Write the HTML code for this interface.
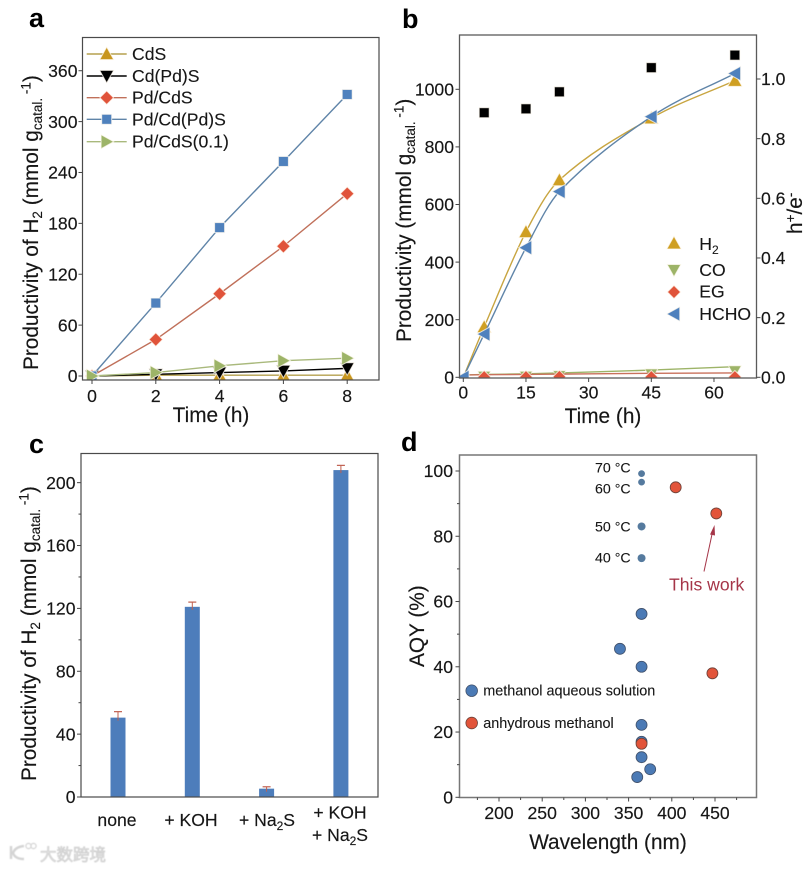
<!DOCTYPE html>
<html lang="en">
<head>
<meta charset="utf-8">
<title>Photocatalysis charts</title>
<style>
html,body{margin:0;padding:0;background:#fff;}
svg{display:block;}
text{font-family:"Liberation Sans","Noto Sans CJK SC",sans-serif;fill:#161616;}
.tick{font-size:17.6px;stroke:#161616;stroke-width:.15;}
.title{font-size:20.8px;stroke:#161616;stroke-width:.15;}
.leg{font-size:17.6px;stroke:#161616;stroke-width:.12;}
.temp{font-size:14.2px;stroke:#161616;stroke-width:.1;}
.dleg{font-size:14.4px;stroke:#161616;stroke-width:.1;}
.plabel{font-size:27px;font-weight:bold;fill:#000;}
.frame{fill:none;stroke:#4a4a4a;stroke-width:1.2;}
</style>
</head>
<body>
<svg id="figure" xmlns="http://www.w3.org/2000/svg" width="811" height="869" viewBox="0 0 811 869">
<defs>
<clipPath id="clip-a"><rect x="82.5" y="37.5" width="296.5" height="342.5"/></clipPath>
<clipPath id="clip-b"><rect x="459.5" y="35" width="297" height="343"/></clipPath>
<filter id="soft"><feGaussianBlur stdDeviation="0.45"/></filter>
</defs>

<g id="panel-a">
<text class="plabel" x="29" y="27">a</text>
<g id="a-marks" clip-path="url(#clip-a)"></g>
<rect class="frame" x="82.5" y="37.5" width="296.5" height="342.5"/>
<g id="a-axes"></g>
<text class="title" x="211" y="422" text-anchor="middle">Time (h)</text>
<text class="title" transform="rotate(-90 38 370)" x="38" y="370">Productivity of H<tspan font-size="13.5" dy="4">2</tspan><tspan dy="-4"> (mmol g</tspan><tspan font-size="13.5" dy="4">catal.</tspan><tspan font-size="13.5" dy="-11.5"> -1</tspan><tspan dy="7.5">)</tspan></text>
<g id="a-legend"></g>
</g>

<g id="panel-b">
<text class="plabel" x="402" y="28">b</text>
<g id="b-marks" clip-path="url(#clip-b)"></g>
<rect class="frame" x="459.5" y="35" width="297" height="343" style="stroke:#5a5a5a;stroke-width:1.3"/>
<g id="b-axes"></g>
<text class="title" x="603" y="423" text-anchor="middle">Time (h)</text>
<text class="title" transform="rotate(-90 411 342)" x="411" y="342">Productivity (mmol g<tspan font-size="13.5" dy="4">catal.</tspan><tspan font-size="13.5" dy="-11.5"> -1</tspan><tspan dy="7.5">)</tspan></text>
<text class="title" transform="rotate(-90 802 234)" x="802" y="234">h<tspan font-size="13.5" dy="-7">+</tspan><tspan dy="7">/e</tspan><tspan font-size="13.5" dy="-7">-</tspan></text>
<g id="b-legend"></g>
</g>

<g id="panel-c">
<text class="plabel" x="29" y="453">c</text>
<g id="c-marks"></g>
<rect class="frame" x="81" y="453.5" width="297" height="343.5"/>
<g id="c-axes"></g>
<text class="title" transform="rotate(-90 36 781)" x="36" y="781">Productivity of H<tspan font-size="13.5" dy="4">2</tspan><tspan dy="-4"> (mmol g</tspan><tspan font-size="13.5" dy="4">catal.</tspan><tspan font-size="13.5" dy="-11.5"> -1</tspan><tspan dy="7.5">)</tspan></text>
<text class="tick" x="117" y="826" text-anchor="middle">none</text>
<text class="tick" x="191" y="826" text-anchor="middle">+ KOH</text>
<text class="tick" x="267" y="826" text-anchor="middle">+ Na<tspan font-size="12" dy="4">2</tspan><tspan dy="-4">S</tspan></text>
<text class="tick" x="340" y="818.5" text-anchor="middle">+ KOH</text>
<text class="tick" x="340" y="841" text-anchor="middle">+ Na<tspan font-size="12" dy="4">2</tspan><tspan dy="-4">S</tspan></text>
</g>

<g id="panel-d">
<text class="plabel" x="401" y="451">d</text>
<rect class="frame" x="459.5" y="455" width="297" height="342.5" style="stroke:#777;stroke-width:1.5"/>
<g id="d-axes"></g>
<g id="d-marks"></g>
<text class="title" x="608" y="849" text-anchor="middle">Wavelength (nm)</text>
<text class="title" transform="rotate(-90 424 667)" x="424" y="667">AQY (%)</text>
<text class="temp" x="595" y="472.5">70 °C</text>
<text class="temp" x="595" y="493.5">60 °C</text>
<text class="temp" x="595" y="531.5">50 °C</text>
<text class="temp" x="595" y="562.5">40 °C</text>
<text x="669" y="590.5" font-size="17.6" style="fill:#a53548">This work</text>
<line x1="704" y1="571.5" x2="712.5" y2="532" stroke="#a53548" stroke-width="1"/>
<polygon points="714.5,525 710,534.5 715,535.5" fill="#a53548"/>
<circle cx="471.7" cy="690.7" r="5.8" fill="#4b7ab5" stroke="#40506a" stroke-width="0.8"/>
<text class="dleg" x="483.3" y="695.5">methanol aqueous solution</text>
<circle cx="471.7" cy="723" r="5.8" fill="#e2543a" stroke="#6a4038" stroke-width="0.8"/>
<text class="dleg" x="483.3" y="728">anhydrous methanol</text>
</g>

<g id="watermark" filter="url(#soft)">
<path d="M11 846 v13 M24 846 q-9 1 -11 7 q2 6 11 6" fill="none" stroke="#d4d4d4" stroke-width="2.4"/>
<circle cx="28.5" cy="846" r="2.6" fill="none" stroke="#d4d4d4" stroke-width="1.2"/>
<circle cx="33.5" cy="846" r="2.6" fill="none" stroke="#d4d4d4" stroke-width="1.2"/>
<text x="40" y="860.5" font-size="16.5" style="fill:#e4e4e4;stroke:#c9c9c9;stroke-width:.6">大数跨境</text>
</g>

<script>
// ---- Panel a data ----
const aTimes = [0, 2, 4, 6, 8];
const aCdS = [0, 1, 1, 1, 1];
const aCdPdS = [0, 2, 4, 6, 9];
const aPdCdS = [0, 43, 97, 153, 215];
const aPdCdPdS = [0, 86, 175, 253, 332];
const aPdCdS01 = [0, 4, 12, 18, 21];
const aXTicks = [0, 2, 4, 6, 8];
const aYTicks = [0, 60, 120, 180, 240, 300, 360];
const aNames = ['CdS', 'Cd(Pd)S', 'Pd/CdS', 'Pd/Cd(Pd)S', 'Pd/CdS(0.1)'];

// ---- Panel b data ----
const bTimes = [0, 5, 15, 23, 45, 65];
const bH2 = [0, 175, 505, 685, 900, 1030];
const bCO = [3, 3, 3, 5, 11, 22];
const bCOLine = [8, 10, 12, 15, 25, 37];
const bEG = [2, 1, 1, 2, 1, 1];
const bEGLine = [8, 9, 10, 11, 14, 15];
const bHCHO = [0, 150, 450, 645, 905, 1055];
const bRatio = [0.887, 0.9, 0.957, 1.038, 1.08];
const bRatioTimes = [5, 15, 23, 45, 65];
const bXTicks = [0, 15, 30, 45, 60];
const bYTicks = [0, 200, 400, 600, 800, 1000];
const bRTicks = [0, 0.2, 0.4, 0.6, 0.8, 1.0];
const bNames = ['H2', 'CO', 'EG', 'HCHO'];

// ---- Panel c data ----
const cValues = [50.5, 121, 5.3, 208];
const cErrors = [3.8, 3, 1.2, 3];
const cCategories = ['none', '+ KOH', '+ Na2S', '+ KOH + Na2S'];
const cPositions = [1, 2, 3, 4];
const cYTicks = [0, 40, 80, 120, 160, 200];
const cYMinor = [20, 60, 100, 140, 180];

// ---- Panel d data ----
const dTempW = [365, 365, 365, 365];
const dTempQ = [99.2, 96.6, 83, 73.3];
const dBlueW = [365, 340, 365, 365, 365, 365, 375, 360];
const dBlueQ = [56.2, 45.5, 40, 22.2, 17, 12.3, 8.6, 6.2];
const dRedW = [404.5, 451.5, 447, 365];
const dRedQ = [95, 87, 38, 16.4];
const dXTicks = [200, 250, 300, 350, 400, 450];
const dXMinor = [175, 225, 275, 325, 375, 425, 475];
const dYTicks = [0, 20, 40, 60, 80, 100];
const dYMinor = [10, 30, 50, 70, 90];

// ---- Scales ----
const ax = v => 92 + v * 31.9;
const ay = v => 376 - v * 0.848;
const bx = v => 463.3 + v * 4.178;
const by = v => 377.3 - v * 0.288;
const bry = v => 377.3 - v * 298.3;
const cx = p => 118 + (p - 1) * 74.3;
const cy = v => 797 - v * 1.5717;
const dx = v => 499 + (v - 200) * 0.864;
const dy = v => 797.3 - v * 3.263;

const NS = 'http://www.w3.org/2000/svg';
function mk(tag, attrs, parent) {
  const e = document.createElementNS(NS, tag);
  for (const k in attrs) e.setAttribute(k, attrs[k]);
  parent.appendChild(e);
  return e;
}
function marker(parent, shape, x, y, r, fill) {
  const halo = {fill: fill, stroke: '#fffaf0', 'stroke-width': 1, 'stroke-opacity': 0.75};
  let e;
  if (shape === 'square') {
    e = mk('rect', Object.assign({x: x - r, y: y - r, width: 2 * r, height: 2 * r}, halo), parent);
  } else {
    let p;
    if (shape === 'up') p = [[x, y - r], [x + r, y + r * 0.8], [x - r, y + r * 0.8]];
    if (shape === 'down') p = [[x, y + r], [x + r, y - r * 0.8], [x - r, y - r * 0.8]];
    if (shape === 'right') p = [[x + r, y], [x - r * 0.8, y - r], [x - r * 0.8, y + r]];
    if (shape === 'left') p = [[x - r, y], [x + r * 0.8, y - r], [x + r * 0.8, y + r]];
    if (shape === 'diamond') p = [[x, y - r], [x + r, y], [x, y + r], [x - r, y]];
    e = mk('polygon', Object.assign({points: p.map(q => q.join(',')).join(' ')}, halo), parent);
  }
  return e;
}
function xTicks(parent, values, scale, base, len, labelY, fmt) {
  values.forEach(v => {
    const t = mk('line', {x1: scale(v), x2: scale(v), y1: base, y2: base + len, stroke: '#444', 'stroke-width': 1}, parent);
    
    
    if (labelY) {
      const l = mk('text', {x: scale(v), y: labelY, 'text-anchor': 'middle', class: 'tick'}, parent);
      l.textContent = fmt ? fmt(v) : v;
      
      
    }
  });
}
function yTicks(parent, values, scale, base, len, labelX, anchor, fmt) {
  values.forEach(v => {
    const t = mk('line', {x1: base, x2: base + len, y1: scale(v), y2: scale(v), stroke: '#444', 'stroke-width': 1}, parent);
    
    
    if (labelX) {
      const l = mk('text', {x: labelX, y: scale(v) + 6.2, 'text-anchor': anchor, class: 'tick'}, parent);
      l.textContent = fmt ? fmt(v) : v;
      
      
    }
  });
}
function polyPath(xs, ys) {
  return xs.map((x, i) => (i ? 'L' : 'M') + x + ' ' + ys[i]).join(' ');
}
function splinePath(xs, ys) {
  let d = 'M' + xs[0] + ' ' + ys[0];
  for (let i = 0; i < xs.length - 1; i++) {
    const i0 = Math.max(i - 1, 0), i3 = Math.min(i + 2, xs.length - 1);
    const h = xs[i + 1] - xs[i];
    const m1 = (ys[i + 1] - ys[i0]) / (xs[i + 1] - xs[i0]);
    const m2 = (ys[i3] - ys[i]) / (xs[i3] - xs[i]);
    d += ' C' + (xs[i] + h / 3) + ' ' + (ys[i] + m1 * h / 3) + ' ' + (xs[i + 1] - h / 3) + ' ' + (ys[i + 1] - m2 * h / 3) + ' ' + xs[i + 1] + ' ' + ys[i + 1];
  }
  return d;
}

// ---- Panel a ----
const aMarks = document.getElementById('a-marks');
const aAxes = document.getElementById('a-axes');
const aLegend = document.getElementById('a-legend');
const aSeries = [
  {v: aCdS, line: '#b5a14f', fill: '#c8961e', shape: 'up', r: 7},
  {v: aCdPdS, line: '#000000', fill: '#000000', shape: 'down', r: 7},
  {v: aPdCdS, line: '#c0705a', fill: '#e0533a', shape: 'diamond', r: 6.8},
  {v: aPdCdPdS, line: '#5f84a8', fill: '#4f81bd', shape: 'square', r: 5},
  {v: aPdCdS01, line: '#a9b97c', fill: '#9db468', shape: 'right', r: 7}
];
aSeries.forEach((s, si) => {
  const xs = aTimes.map(ax), ys = s.v.map(ay);
  const line = mk('path', {d: polyPath(xs, ys), fill: 'none', stroke: s.line, 'stroke-width': 1.4}, aMarks);
  
  
  s.v.forEach((val, i) => {
    const m = marker(aMarks, s.shape, ax(aTimes[i]), ay(val), s.r, s.fill);
    
    
  });
  const rowY = [54, 76, 97.7, 119.3, 141.7][si];
  const ll = mk('line', {x1: 86.7, x2: 126.7, y1: rowY, y2: rowY, stroke: s.line, 'stroke-width': 1.4}, aLegend);
  
  
  const lm = marker(aLegend, s.shape, 106.7, rowY, s.r, s.fill);
  
  
  const lt = mk('text', {x: 132, y: rowY + 6, class: 'leg'}, aLegend);
  lt.textContent = aNames[si];
  
  
});
xTicks(aAxes, aXTicks, ax, 380, 4, 402);
yTicks(aAxes, aYTicks, ay, 82.5, -4, 77.5, 'end');

// ---- Panel b ----
const bMarks = document.getElementById('b-marks');
const bAxes = document.getElementById('b-axes');
const bLegend = document.getElementById('b-legend');
const bSeries = [
  {v: bCO, lineV: bCOLine, line: '#9db468', fill: '#9db468', shape: 'down', r: 6.5},
  {v: bEG, lineV: bEGLine, line: '#c9715c', fill: '#e0533a', shape: 'diamond', r: 6.5},
  {v: bH2, lineV: bH2, line: '#c8a540', fill: '#cf9f22', shape: 'up', r: 7.2},
  {v: bHCHO, lineV: bHCHO, line: '#5f84a8', fill: '#4f81bd', shape: 'left', r: 7.2}
];
bSeries.forEach(s => {
  const xs = bTimes.map(bx), ys = s.lineV.map(by);
  const line = mk('path', {d: splinePath(xs, ys), fill: 'none', stroke: s.line, 'stroke-width': 1.4}, bMarks);
  
  
  s.v.forEach((val, i) => {
    if (i === 0 && s.shape !== 'left') return;
    const m = marker(bMarks, s.shape, bx(bTimes[i]), by(val), s.r, s.fill);
    
    
  });
});
bRatio.forEach((val, i) => {
  const m = marker(bMarks, 'square', bx(bRatioTimes[i]), bry(val), 5, '#000000');
  
  
});
const bLegendRows = [
  {shape: 'up', fill: '#cf9f22', r: 7.2, y: 243.3, ty: 250},
  {shape: 'down', fill: '#9db468', r: 6.8, y: 270, ty: 276},
  {shape: 'diamond', fill: '#e0533a', r: 6.6, y: 292, ty: 297.5},
  {shape: 'left', fill: '#4f81bd', r: 7.2, y: 314, ty: 320}
];
bLegendRows.forEach((row, i) => {
  const lm = marker(bLegend, row.shape, 674, row.y, row.r, row.fill);
  
  
  const lt = mk('text', {x: 699.3, y: row.ty, class: 'leg'}, bLegend);
  if (bNames[i] === 'H2') {
    lt.textContent = 'H';
    const sub = mk('tspan', {'font-size': 12, dy: 4}, lt);
    sub.textContent = '2';
  } else {
    lt.textContent = bNames[i];
  }
  
  
});
xTicks(bAxes, bXTicks, bx, 378, 4, 398.5);
yTicks(bAxes, bYTicks, by, 459.5, -4, 454, 'end');
yTicks(bAxes, bRTicks, bry, 756.5, 4, 761, 'start', v => v.toFixed(1));

// ---- Panel c ----
const cMarks = document.getElementById('c-marks');
const cAxes = document.getElementById('c-axes');
cValues.forEach((v, i) => {
  const x = cx(cPositions[i]);
  const bar = mk('rect', {x: x - 7.5, y: cy(v), width: 15, height: cy(0) - cy(v), fill: '#4d7dbb'}, cMarks);
  
  
  const stem = mk('line', {x1: x, x2: x, y1: cy(v + cErrors[i]), y2: cy(v) + 3, stroke: '#c0604f', 'stroke-width': 1}, cMarks);
  
  
  const cap = mk('line', {x1: x - 4, x2: x + 4, y1: cy(v + cErrors[i]), y2: cy(v + cErrors[i]), stroke: '#c0604f', 'stroke-width': 1.2}, cMarks);
  
  
});
yTicks(cAxes, cYTicks, cy, 81, -4, 75.5, 'end');
yTicks(cAxes, cYMinor, cy, 81, -2.5);

// ---- Panel d ----
const dMarks = document.getElementById('d-marks');
const dAxes = document.getElementById('d-axes');
xTicks(dAxes, dXTicks, dx, 797.5, 4, 819);
xTicks(dAxes, dXMinor, dx, 797.5, 2.5);
yTicks(dAxes, dYTicks, dy, 459.5, -4, 453, 'end');
yTicks(dAxes, dYMinor, dy, 459.5, -2.5);
dTempW.forEach((w, i) => {
  const p = mk('circle', {cx: dx(w), cy: dy(dTempQ[i]), r: i < 2 ? 3.4 : 4, fill: '#557a9e'}, dMarks);
  
  
});
dBlueW.forEach((w, i) => {
  const p = mk('circle', {cx: dx(w), cy: dy(dBlueQ[i]), r: 5.5, fill: '#4b7ab5', stroke: '#40506a', 'stroke-width': 0.8}, dMarks);
  
  
});
dRedW.forEach((w, i) => {
  const p = mk('circle', {cx: dx(w), cy: dy(dRedQ[i]), r: 5.5, fill: '#e2543a', stroke: '#6a4038', 'stroke-width': 0.8}, dMarks);
  
  
});
</script>
</svg>
</body>
</html>
